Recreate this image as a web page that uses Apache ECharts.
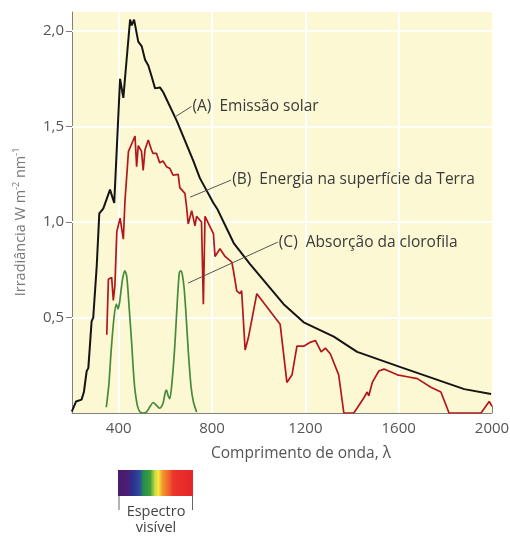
<!DOCTYPE html>
<html>
<head>
<meta charset="utf-8">
<script src="https://cdn.jsdelivr.net/npm/echarts@6/dist/echarts.min.js"></script>
<style>html,body{margin:0;padding:0;background:#fff;}#c{width:510px;height:536px;}</style>
</head>
<body>
<div id="c"></div>
<script>
// Wavelength (nm) / irradiance pairs
var solarEmission = [
  [199,0.007],[217,0.06],[241,0.07],[251,0.11],[263,0.22],[270,0.235],[284,0.48],[291,0.50],
  [306,0.77],[317,1.045],[334,1.07],[363,1.17],[381,1.10],[406,1.75],[420,1.65],[434,1.85],
  [449,2.06],[456,2.03],[466,2.06],[484,1.945],[499,1.92],[513,1.85],[527,1.82],[542,1.76],
  [556,1.70],[577,1.705],[591,1.68],[649,1.53],[720,1.32],[748,1.23],[806,1.10],[822,1.07],
  [893,0.89],[963,0.78],[1035,0.675],[1107,0.57],[1193,0.475],[1322,0.40],[1422,0.32],
  [1608,0.24],[1881,0.125],[1996,0.10]
];
var surfaceEnergy = [
  [349,0.41],[356,0.70],[370,0.71],[377,0.59],[384,0.67],[392,0.95],[406,1.02],[420,0.91],
  [427,1.11],[442,1.37],[456,1.41],[470,1.45],[477,1.29],[484,1.40],[491,1.39],[498,1.37],
  [505,1.27],[513,1.38],[527,1.43],[540,1.38],[547,1.36],[562,1.36],[576,1.31],[590,1.32],
  [605,1.29],[620,1.28],[633,1.245],[655,1.25],[662,1.18],[684,1.15],[691,1.08],[698,0.99],
  [713,1.06],[727,0.98],[734,1.03],[755,1.00],[763,0.57],[770,1.03],[806,0.94],[813,0.82],
  [834,0.86],[856,0.82],[885,0.79],[892,0.745],[906,0.64],[920,0.625],[927,0.64],[942,0.33],
  [956,0.395],[992,0.625],[1092,0.465],[1121,0.16],[1143,0.20],[1164,0.35],[1193,0.35],
  [1221,0.37],[1243,0.38],[1268,0.32],[1286,0.34],[1307,0.31],[1343,0.20],[1365,0],[1408,0],
  [1451,0.08],[1465,0.11],[1472,0.09],[1487,0.16],[1515,0.22],[1537,0.23],[1594,0.20],
  [1637,0.19],[1680,0.18],[1738,0.135],[1781,0.11],[1816,0],[1953,0],[1988,0.06],[2000,0.035]
];
var chlorophyllAbsorption = [
  [347,0.03],[358,0.15],[368,0.33],[380,0.50],[390,0.57],[397,0.545],[404,0.58],[412,0.66],
  [418,0.71],[426,0.745],[434,0.72],[440,0.64],[445,0.55],[455,0.38],[462,0.24],[469,0.13],
  [480,0.04],[490,0.008],[505,0.0],[519,0.005],[535,0.035],[548,0.055],[562,0.04],[576,0.025],
  [590,0.05],[600,0.11],[605,0.12],[612,0.09],[619,0.075],[630,0.18],[641,0.36],[652,0.60],
  [660,0.735],[666,0.745],[672,0.73],[680,0.66],[688,0.53],[698,0.33],[710,0.14],[720,0.06],
  [734,0.005]
];
var xTickValues = [400, 800, 1200, 1600, 2000];
var xGridValues = [400, 800, 1200, 1600];
var yTickValues = [0.5, 1.0, 1.5, 2.0];
var labelA = '(A)  Emissão solar';
var labelB = '(B)  Energia na superfície da Terra';
var labelC = '(C)  Absorção da clorofila';
// leader lines: [curve point, label point]
var leaderA = [[641, 1.55], [712, 1.605]];
var leaderB = [[706, 1.13], [882, 1.22]];
var leaderC = [[697, 0.68], [1082, 0.895]];

var FONT = '"Open Sans", "Noto Sans", sans-serif';
var chart = echarts.init(document.getElementById('c'));

function leader(pts, text) {
  return {
    markLine: {
      silent: true, symbol: 'none', animation: false,
      lineStyle: {color: '#555', width: 1, type: 'solid'},
      label: {show: false},
      data: [[{coord: pts[0]}, {coord: pts[1]}]]
    },
    markPoint: {
      silent: true, symbol: 'circle', symbolSize: 0, animation: false,
      label: {show: true, position: 'right', distance: 1, formatter: text,
        color: '#3a3a3a', fontSize: 15.5, fontFamily: FONT},
      data: [{coord: pts[1]}]
    }
  };
}

var gridLines = xGridValues.map(function (v) { return {xAxis: v}; })
  .concat(yTickValues.map(function (v) { return {yAxis: v}; }));

var sA = Object.assign({type: 'line', name: 'A', data: solarEmission, showSymbol: false, z: 3,
  lineStyle: {color: '#141414', width: 2}, silent: true, animation: false}, leader(leaderA, labelA));
var sB = Object.assign({type: 'line', name: 'B', data: surfaceEnergy, showSymbol: false, z: 3,
  lineStyle: {color: '#b3161c', width: 1.7}, silent: true, animation: false}, leader(leaderB, labelB));
var sC = Object.assign({type: 'line', name: 'C', data: chlorophyllAbsorption, showSymbol: false, z: 4,
  smooth: 0.25, lineStyle: {color: '#468a3a', width: 1.7}, silent: true, animation: false}, leader(leaderC, labelC));

chart.setOption({
  animation: false,
  backgroundColor: '#ffffff',
  grid: {left: 72, right: 18, top: 12, bottom: 123, show: true, backgroundColor: '#fcf8d3', borderWidth: 0,
    containLabel: false, outerBoundsMode: 'none'},
  xAxis: {
    type: 'value', min: 200, max: 2000, interval: 200,
    name: 'Comprimento de onda, λ', nameLocation: 'middle', nameGap: 33,
    nameTextStyle: {color: '#555', fontSize: 15.5, fontFamily: FONT, padding: [0, 0, 0, 38]},
    axisLine: {show: true, lineStyle: {color: '#808080', width: 1}},
    axisTick: {show: true, inside: true, length: 7, customValues: xTickValues, lineStyle: {color: '#808080'}},
    axisLabel: {customValues: xTickValues, color: '#555', fontSize: 15, fontFamily: FONT, margin: 8,
      formatter: function (v) { return String(v); }},
    splitLine: {show: false}
  },
  yAxis: {
    type: 'value', min: 0, max: 2.1, interval: 0.5,
    axisLine: {show: true, lineStyle: {color: '#808080', width: 1}},
    axisTick: {show: true, inside: false, length: 6, customValues: yTickValues, lineStyle: {color: '#808080'}},
    axisLabel: {customValues: yTickValues, color: '#555', fontSize: 15, fontFamily: FONT, margin: 8,
      formatter: function (v) { return v.toFixed(1).replace('.', ','); }},
    splitLine: {show: false}
  },
  series: [
    {type: 'line', name: 'grid', data: [], z: 1, silent: true,
      markLine: {z: 1, zlevel: 0, silent: true, symbol: 'none', animation: false, label: {show: false},
        lineStyle: {color: '#ffffff', width: 2, type: 'solid'}, data: gridLines}},
    sA, sB, sC
  ],
  graphic: [
    {type: 'text', silent: true, x: 21, y: 222, rotation: Math.PI / 2,
      style: {text: '{a|Irradiância W m}{s|-2}{a| nm}{s|-1}', align: 'center', verticalAlign: 'middle',
        fill: '#777', fontFamily: FONT,
        rich: {a: {fontSize: 14.5, fill: '#777', fontFamily: FONT, lineHeight: 18},
               s: {fontSize: 9, fill: '#777', fontFamily: FONT, verticalAlign: 'top', lineHeight: 18}}}},
    {type: 'rect', silent: true, shape: {x: 118, y: 470, width: 75, height: 26},
      style: {fill: {type: 'linear', x: 0, y: 0, x2: 1, y2: 0, colorStops: [
        {offset: 0, color: '#4d1a68'}, {offset: 0.14, color: '#4a1f78'},
        {offset: 0.19, color: '#2c2e8c'}, {offset: 0.29, color: '#2f4aa0'},
        {offset: 0.34, color: '#23904a'}, {offset: 0.43, color: '#3f9f3e'},
        {offset: 0.49, color: '#c8d844'}, {offset: 0.54, color: '#f6ea3c'},
        {offset: 0.59, color: '#f39a30'}, {offset: 0.67, color: '#ef6a2c'},
        {offset: 0.74, color: '#e9342b'}, {offset: 1, color: '#e6242a'}]}}},
    {type: 'line', silent: true, shape: {x1: 119, y1: 496, x2: 119, y2: 510}, style: {stroke: '#666', lineWidth: 1}},
    {type: 'line', silent: true, shape: {x1: 192.5, y1: 496, x2: 192.5, y2: 510}, style: {stroke: '#666', lineWidth: 1}},
    {type: 'text', silent: true, x: 156, y: 512, style: {text: 'Espectro', fill: '#444', fontSize: 14.5, fontFamily: FONT, align: 'center', verticalAlign: 'middle'}},
    {type: 'text', silent: true, x: 156, y: 528, style: {text: 'visível', fill: '#444', fontSize: 14.5, fontFamily: FONT, align: 'center', verticalAlign: 'middle'}}
  ]
});
</script>
</body>
</html>
